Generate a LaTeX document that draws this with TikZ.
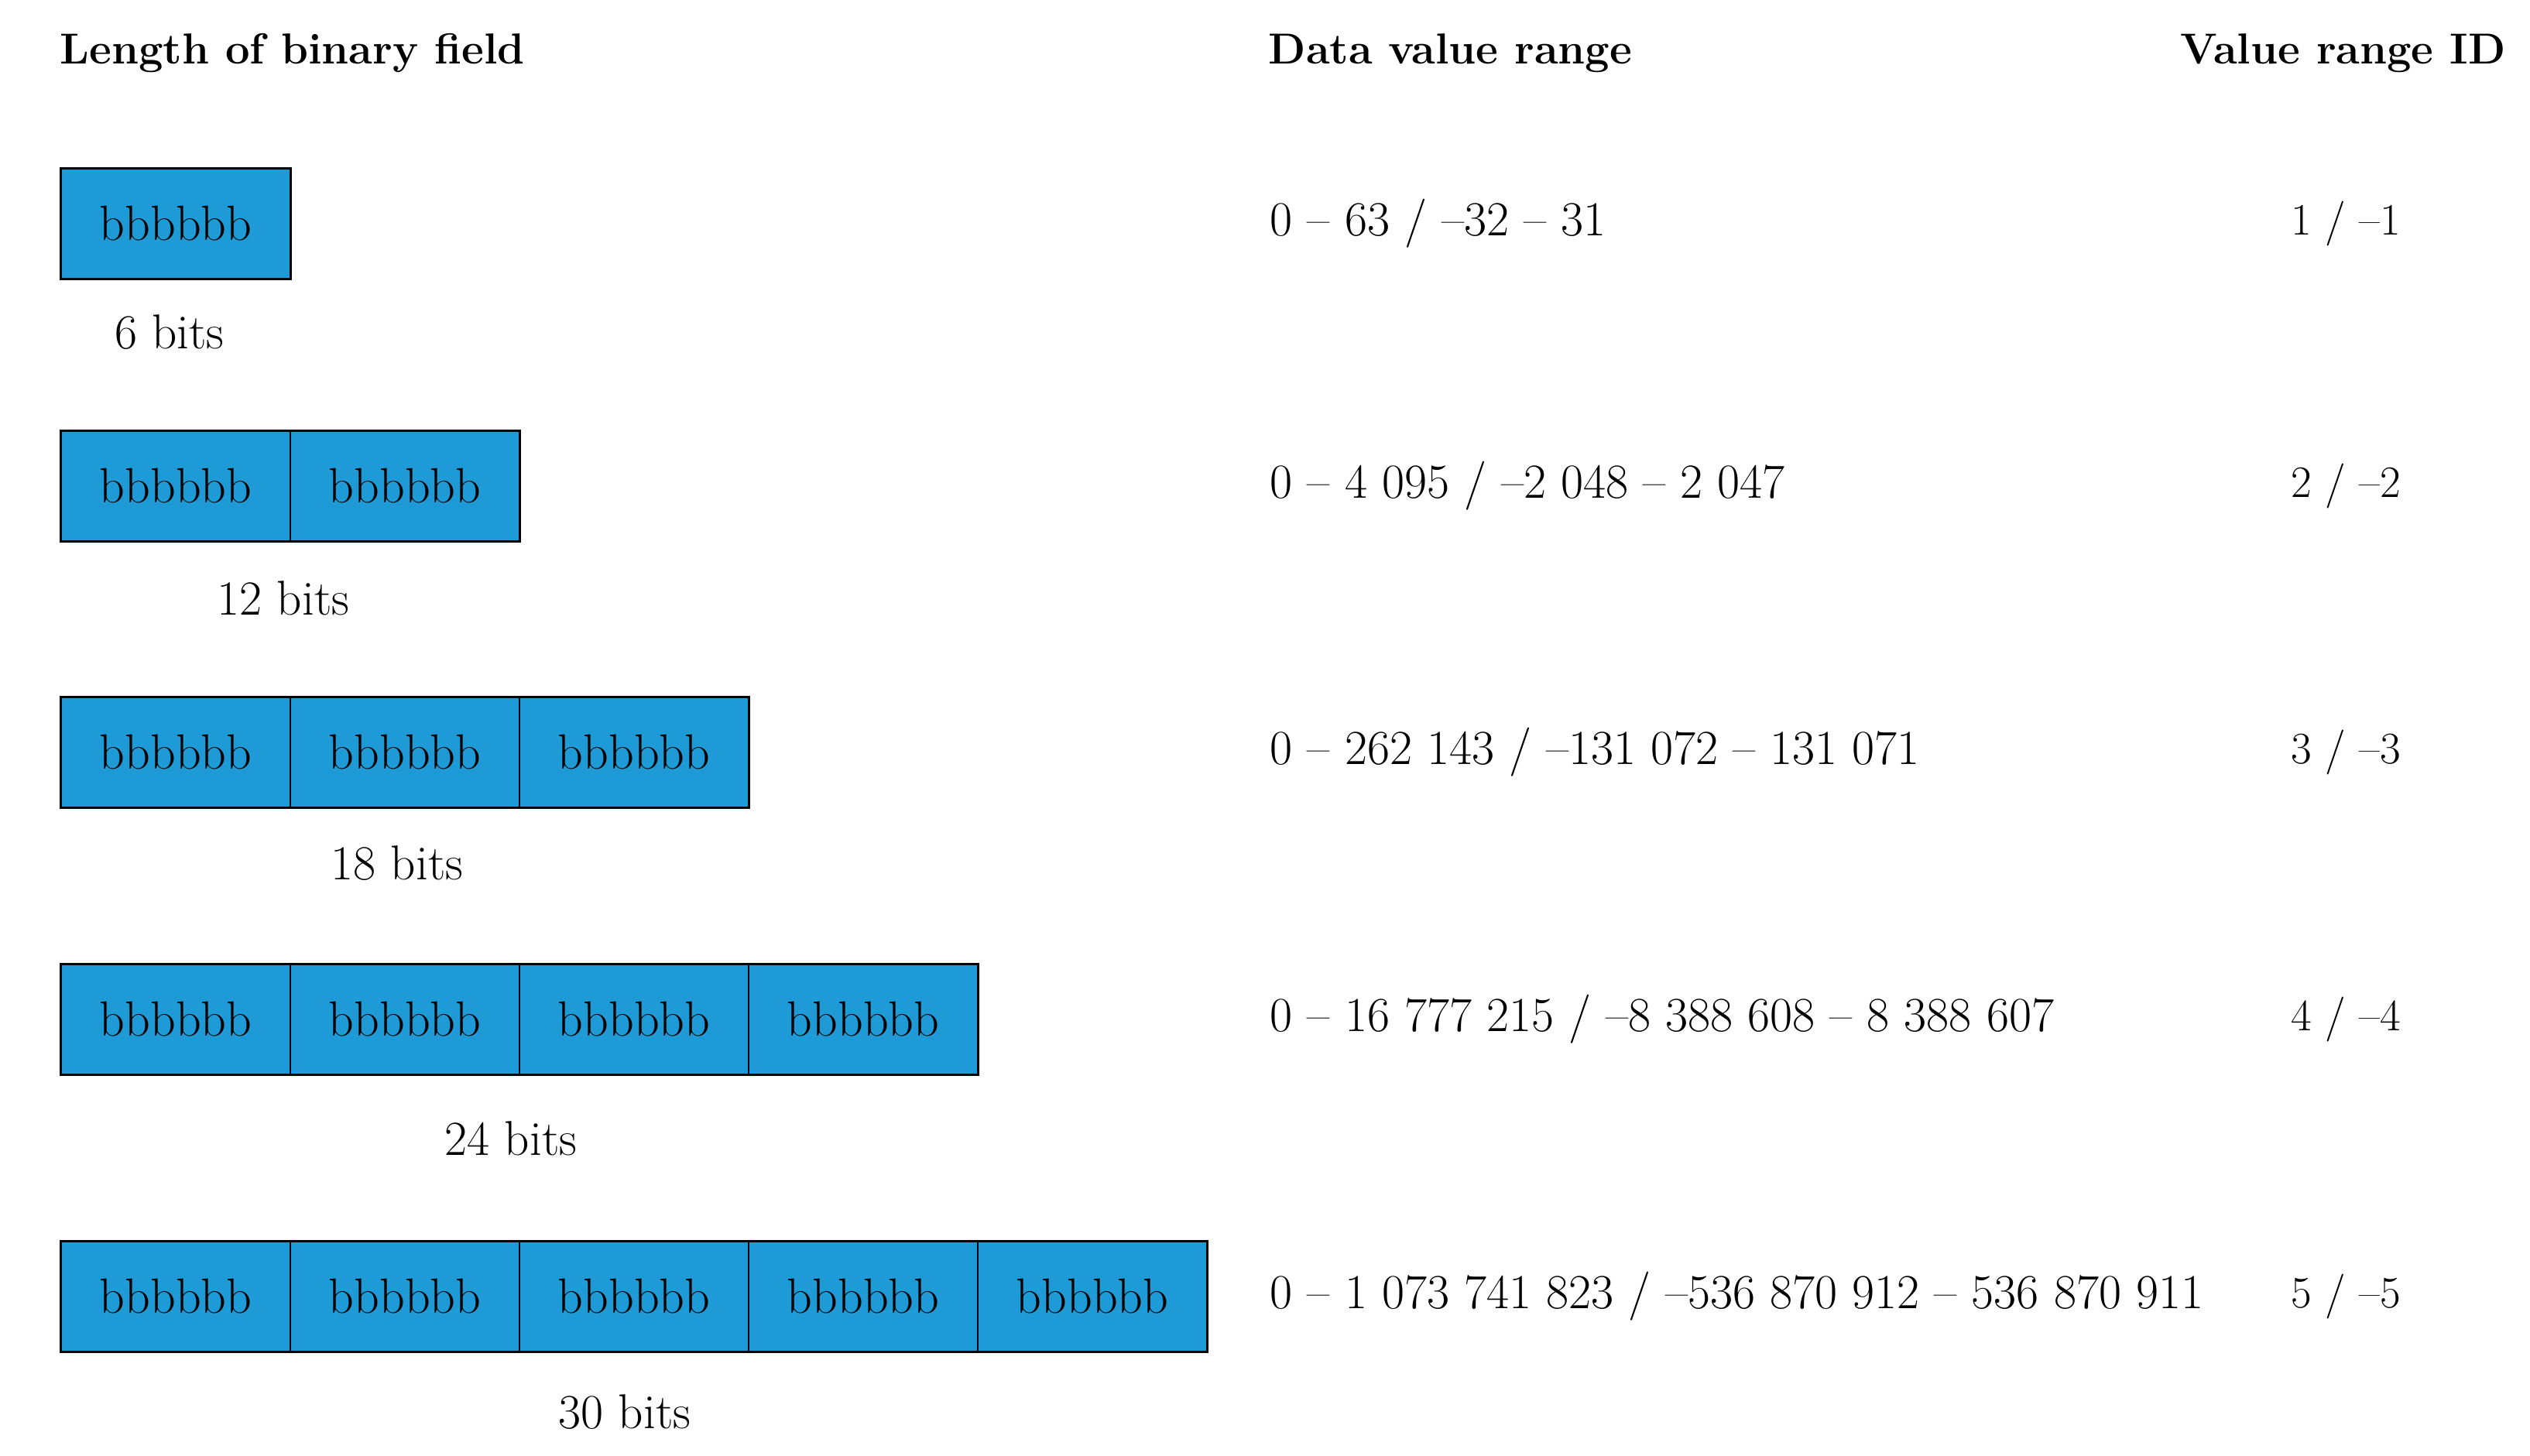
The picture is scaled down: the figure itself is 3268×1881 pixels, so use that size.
\documentclass[tikz,border=0pt]{standalone}
\usepackage{fontspec}
\setmainfont{Latin Modern Roman}
\definecolor{boxblue}{RGB}{30,155,215}
\tikzset{
  px/.style={x=0.25pt,y=-0.25pt},
  bitbox/.style={draw=black,line width=0.35pt,fill=boxblue,minimum width=74pt,minimum height=35.5pt,inner sep=0pt,font=\fontsize{16}{18}\selectfont},
  rowframe/.style={draw=black,line width=0.7pt},
  head/.style={font=\bfseries\fontsize{14}{16}\selectfont,anchor=west,inner sep=0pt},
  txt/.style={font=\fontsize{15.8}{18}\selectfont,inner sep=0pt},
  idtxt/.style={font=\fontsize{14.5}{16}\selectfont,inner sep=0pt},
}
\begin{document}
\begin{tikzpicture}[px]
\useasboundingbox (0,0) rectangle (3268,1881);
\node[head] (h1) at (77,69) {Length of binary field};
\node[head] (h2) at (1638,69) {Data value range};
\node[head] (h3) at (2816,69) {Value range ID};
% rows
\foreach \r/\yc/\ly/\lab/\rng/\id in {
  1/289/429/{6 bits}/{0 -- 63 / \textendash32 -- 31}/{1 / \textendash1},
  2/628/773/{12 bits}/{0 -- 4 095 / \textendash2 048 -- 2 047}/{2 / \textendash2},
  3/972/1115/{18 bits}/{0 -- 262 143 / \textendash131 072 -- 131 071}/{3 / \textendash3},
  4/1317/1471/{24 bits}/{0 -- 16 777 215 / \textendash8 388 608 -- 8 388 607}/{4 / \textendash4},
  5/1675/1824/{30 bits}/{0 -- 1 073 741 823 / \textendash536 870 912 -- 536 870 911}/{5 / \textendash5}}{
  \foreach \c in {1,...,\r}{
    \node[bitbox] (b\r-\c) at ({79+296*(\c-0.5)},\yc) {bbbbbb};
  }
  \draw[rowframe] (b\r-1.north west) rectangle (b\r-\r.south east);
  \node[txt] (l\r) at ({72+147*\r},\ly) {\lab};
  \node[txt,anchor=west] (d\r) at (1640,\yc) {\rng};
  \node[idtxt] (i\r) at (3030,\yc) {\id};
}
\end{tikzpicture}
\end{document}
